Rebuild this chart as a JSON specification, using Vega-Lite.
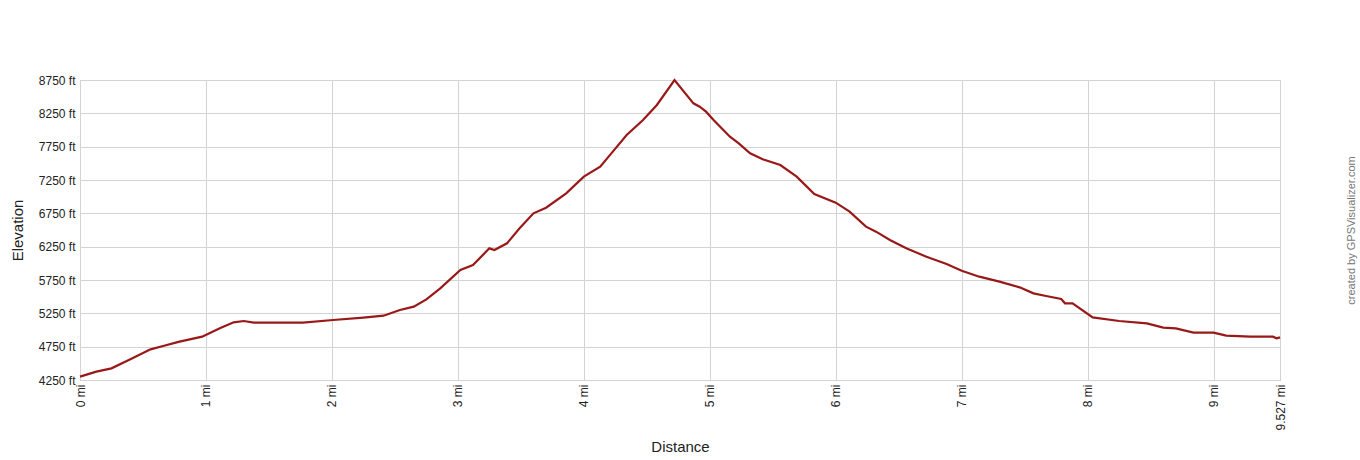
{
  "$schema": "https://vega.github.io/schema/vega-lite/v6.json",
  "width": 1200,
  "height": 300,
  "autosize": "none",
  "padding": {"left": 80, "top": 80, "right": 80, "bottom": 80},
  "background": "white",
  "data": {
    "values": [
      {"mi": 0, "ft": 4300}, {"mi": 0.13, "ft": 4375}, {"mi": 0.25, "ft": 4425},
      {"mi": 0.4, "ft": 4560}, {"mi": 0.56, "ft": 4710}, {"mi": 0.66, "ft": 4760},
      {"mi": 0.79, "ft": 4825}, {"mi": 0.97, "ft": 4900}, {"mi": 1.11, "ft": 5025},
      {"mi": 1.22, "ft": 5115}, {"mi": 1.3, "ft": 5135}, {"mi": 1.38, "ft": 5110},
      {"mi": 1.77, "ft": 5110}, {"mi": 2.01, "ft": 5150}, {"mi": 2.25, "ft": 5185},
      {"mi": 2.41, "ft": 5215}, {"mi": 2.54, "ft": 5300}, {"mi": 2.65, "ft": 5350},
      {"mi": 2.75, "ft": 5460}, {"mi": 2.86, "ft": 5625}, {"mi": 3.02, "ft": 5900},
      {"mi": 3.12, "ft": 5975}, {"mi": 3.25, "ft": 6225}, {"mi": 3.29, "ft": 6200},
      {"mi": 3.39, "ft": 6300}, {"mi": 3.49, "ft": 6525}, {"mi": 3.6, "ft": 6750},
      {"mi": 3.7, "ft": 6835}, {"mi": 3.86, "ft": 7050}, {"mi": 4.0, "ft": 7300},
      {"mi": 4.13, "ft": 7450}, {"mi": 4.23, "ft": 7675}, {"mi": 4.34, "ft": 7925},
      {"mi": 4.47, "ft": 8150}, {"mi": 4.58, "ft": 8375}, {"mi": 4.72, "ft": 8750},
      {"mi": 4.87, "ft": 8400}, {"mi": 4.92, "ft": 8350}, {"mi": 4.97, "ft": 8275},
      {"mi": 5.03, "ft": 8150}, {"mi": 5.16, "ft": 7900}, {"mi": 5.23, "ft": 7800},
      {"mi": 5.32, "ft": 7650}, {"mi": 5.42, "ft": 7560}, {"mi": 5.56, "ft": 7475},
      {"mi": 5.69, "ft": 7300}, {"mi": 5.83, "ft": 7040}, {"mi": 6.0, "ft": 6910},
      {"mi": 6.11, "ft": 6775}, {"mi": 6.24, "ft": 6550}, {"mi": 6.32, "ft": 6475},
      {"mi": 6.43, "ft": 6350}, {"mi": 6.56, "ft": 6225}, {"mi": 6.72, "ft": 6100},
      {"mi": 6.88, "ft": 5990}, {"mi": 7.0, "ft": 5890}, {"mi": 7.14, "ft": 5800},
      {"mi": 7.3, "ft": 5725}, {"mi": 7.46, "ft": 5640}, {"mi": 7.57, "ft": 5550},
      {"mi": 7.67, "ft": 5510}, {"mi": 7.79, "ft": 5465}, {"mi": 7.82, "ft": 5400},
      {"mi": 7.88, "ft": 5400}, {"mi": 8.04, "ft": 5190}, {"mi": 8.25, "ft": 5135},
      {"mi": 8.47, "ft": 5100}, {"mi": 8.6, "ft": 5035}, {"mi": 8.7, "ft": 5025},
      {"mi": 8.84, "ft": 4960}, {"mi": 9.0, "ft": 4960}, {"mi": 9.1, "ft": 4915},
      {"mi": 9.29, "ft": 4900}, {"mi": 9.47, "ft": 4900}, {"mi": 9.5, "ft": 4875},
      {"mi": 9.527, "ft": 4890}
    ]
  },
  "encoding": {
    "x": {
      "field": "mi",
      "type": "quantitative",
      "scale": {"domain": [0, 9.527], "nice": false, "zero": false},
      "axis": {
        "title": "Distance",
        "values": [0, 1, 2, 3, 4, 5, 6, 7, 8, 9, 9.527],
        "labelExpr": "datum.value + ' mi'",
        "labelAngle": 270,
        "labelPadding": 4,
        "titlePadding": 9,
        "ticks": false,
        "domain": false
      }
    }
  },
  "layer": [
    {
      "mark": {"type": "line", "color": "#991818", "strokeWidth": 2.2},
      "encoding": {
        "y": {
          "field": "ft",
          "type": "quantitative",
          "scale": {"domain": [4250, 8750], "nice": false, "zero": false},
          "axis": {
            "title": "Elevation",
            "values": [4250, 4750, 5250, 5750, 6250, 6750, 7250, 7750, 8250, 8750],
            "labelExpr": "datum.value + ' ft'",
            "labelPadding": 5,
            "titlePadding": 13,
            "ticks": false,
            "domain": false
          }
        }
      }
    },
    {
      "mark": {"type": "line", "opacity": 0},
      "encoding": {
        "y": {
          "field": "ft",
          "type": "quantitative",
          "scale": {"domain": [4250, 8750], "nice": false, "zero": false},
          "axis": {
            "orient": "right",
            "title": "created by GPSVisualizer.com",
            "labels": false,
            "ticks": false,
            "domain": false,
            "grid": false,
            "titleAngle": 270,
            "titleFontSize": 11,
            "titleFontWeight": "normal",
            "titleColor": "#777777",
            "titlePadding": 76
          }
        }
      }
    }
  ],
  "resolve": {"axis": {"y": "independent"}},
  "config": {
    "font": "Liberation Sans",
    "view": {"stroke": "#c0c0c0"},
    "axis": {
      "gridColor": "#d3d3d3",
      "gridOpacity": 1,
      "labelFontSize": 12,
      "labelColor": "#222222",
      "titleFontSize": 15,
      "titleFontWeight": "normal",
      "titleColor": "#222222"
    }
  }
}
